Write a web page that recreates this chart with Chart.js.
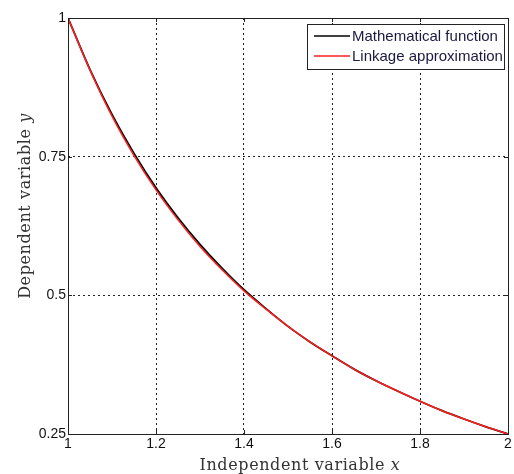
<!DOCTYPE html>
<html>
<head>
<meta charset="utf-8">
<script src="https://cdn.jsdelivr.net/npm/chart.js@4"></script>
<style>
html,body{margin:0;padding:0;background:#fff;}
#wrap{width:514px;height:474px;position:relative;}
</style>
</head>
<body>
<div id="wrap"><canvas id="c" width="514" height="474"></canvas></div>
<script>
const xValues = [1.00,1.05,1.10,1.15,1.20,1.25,1.30,1.35,1.40,1.45,1.50,1.55,1.60,1.65,1.70,1.75,1.80,1.85,1.90,1.95,2.00];
const mathFunction = [1.000,0.907,0.826,0.756,0.694,0.640,0.592,0.549,0.510,0.476,0.444,0.416,0.391,0.367,0.346,0.327,0.309,0.292,0.277,0.263,0.250];
const linkageApprox = [1.000,0.906,0.823,0.752,0.690,0.636,0.588,0.546,0.508,0.475,0.444,0.416,0.391,0.367,0.346,0.327,0.309,0.292,0.277,0.263,0.250];
const xTicks = [1, 1.2, 1.4, 1.6, 1.8, 2];
const yTicks = [0.25, 0.5, 0.75, 1];
const seriesLabels = ['Mathematical function', 'Linkage approximation'];
const xTitle = ['Independent variable ', 'x'];
const yTitle = ['Dependent variable ', 'y'];

const toPts = arr => xValues.map((x, i) => ({x: x, y: arr[i]}));

const framePlugin = {
  id: 'frame',
  afterDraw(chart) {
    const ctx = chart.ctx;
    const a = chart.chartArea;
    const xs = chart.scales.x, ys = chart.scales.y;
    ctx.save();
    ctx.strokeStyle = '#222';
    ctx.lineWidth = 1;
    ctx.setLineDash([]);
    ctx.strokeRect(Math.round(a.left)+0.5, Math.round(a.top)+0.5, Math.round(a.right-a.left), Math.round(a.bottom-a.top));
    const tl = 4;
    ctx.beginPath();
    xTicks.forEach(v => {
      const px = Math.round(xs.getPixelForValue(v)) + 0.5;
      ctx.moveTo(px, a.bottom); ctx.lineTo(px, a.bottom - tl);
      ctx.moveTo(px, a.top); ctx.lineTo(px, a.top + tl);
    });
    yTicks.forEach(v => {
      const py = Math.round(ys.getPixelForValue(v)) + 0.5;
      ctx.moveTo(a.left, py); ctx.lineTo(a.left + tl, py);
      ctx.moveTo(a.right, py); ctx.lineTo(a.right - tl, py);
    });
    ctx.stroke();

    // legend
    const lx = 307.5, ly = 24.5, lw = 197, lh = 45;
    ctx.fillStyle = '#fff';
    ctx.fillRect(lx, ly, lw, lh);
    ctx.strokeStyle = '#222';
    ctx.strokeRect(lx, ly, lw, lh);
    const colors = ['#000', '#ff2020'];
    ctx.font = '15px "Liberation Sans", Arial, sans-serif';
    ctx.textBaseline = 'middle';
    ctx.textAlign = 'left';
    seriesLabels.forEach((lab, i) => {
      const yy = ly + 11.5 + i * 20;
      ctx.strokeStyle = colors[i];
      ctx.lineWidth = 1.3;
      ctx.beginPath(); ctx.moveTo(314, yy); ctx.lineTo(350, yy); ctx.stroke();
      ctx.fillStyle = '#1a1a40';
      ctx.fillText(lab, 352, yy + 1);
    });

    // axis titles (serif, italic variable)
    const serif = '"DejaVu Serif", "Liberation Serif", serif';
    ctx.fillStyle = '#333';
    ctx.textBaseline = 'alphabetic';
    ctx.letterSpacing = '0.6px';
    ctx.font = '16px ' + serif;
    const w1 = ctx.measureText(xTitle[0]).width;
    ctx.font = 'italic 16px ' + serif;
    const w2 = ctx.measureText(xTitle[1]).width;
    let sx = 300 - (w1 + w2) / 2;
    ctx.font = '16px ' + serif;
    ctx.fillText(xTitle[0], sx, 470);
    ctx.font = 'italic 16px ' + serif;
    ctx.fillText(xTitle[1], sx + w1, 470);
    ctx.save();
    ctx.translate(30, 206);
    ctx.rotate(-Math.PI / 2);
    ctx.font = '16px ' + serif;
    const v1 = ctx.measureText(yTitle[0]).width;
    ctx.font = 'italic 16px ' + serif;
    const v2 = ctx.measureText(yTitle[1]).width;
    let sy = -(v1 + v2) / 2;
    ctx.font = '16px ' + serif;
    ctx.fillText(yTitle[0], sy, 0);
    ctx.font = 'italic 16px ' + serif;
    ctx.fillText(yTitle[1], sy + v1, 0);
    ctx.restore();
    ctx.restore();
  }
};

new Chart(document.getElementById('c'), {
  type: 'line',
  data: {
    datasets: [
      {label: seriesLabels[0], data: toPts(mathFunction), order: 2, borderColor: '#000', borderWidth: 1.8, pointRadius: 0, cubicInterpolationMode: 'monotone', fill: false},
      {label: seriesLabels[1], data: toPts(linkageApprox), order: 1, borderColor: '#ff2020', borderWidth: 1.5, pointRadius: 0, cubicInterpolationMode: 'monotone', fill: false}
    ]
  },
  options: {
    responsive: false,
    animation: false,
    devicePixelRatio: 1,
    layout: {padding: {top: 18, right: 6, left: 0, bottom: 0}},
    plugins: {legend: {display: false}, tooltip: {enabled: false}},
    scales: {
      x: {
        type: 'linear', min: 1, max: 2,
        afterFit(s) { s.height = 40; },
        afterBuildTicks(s) { s.ticks = xTicks.map(v => ({value: v})); },
        grid: {color: '#222', lineWidth: 1, drawTicks: false},
        border: {display: false, dash: [2, 3]},
        ticks: {color: '#111', font: {family: '"Liberation Sans", Arial, sans-serif', size: 14}, padding: 2, maxRotation: 0, autoSkip: false, callback: v => String(v)}
      },
      y: {
        type: 'linear', min: 0.25, max: 1,
        afterFit(s) { s.width = 68; },
        afterBuildTicks(s) { s.ticks = yTicks.map(v => ({value: v})); },
        grid: {color: '#222', lineWidth: 1, drawTicks: false},
        border: {display: false, dash: [2, 3]},
        ticks: {color: '#111', font: {family: '"Liberation Sans", Arial, sans-serif', size: 14}, padding: 2, autoSkip: false, callback: v => String(v)}
      }
    }
  },
  plugins: [framePlugin]
});
</script>
</body>
</html>
